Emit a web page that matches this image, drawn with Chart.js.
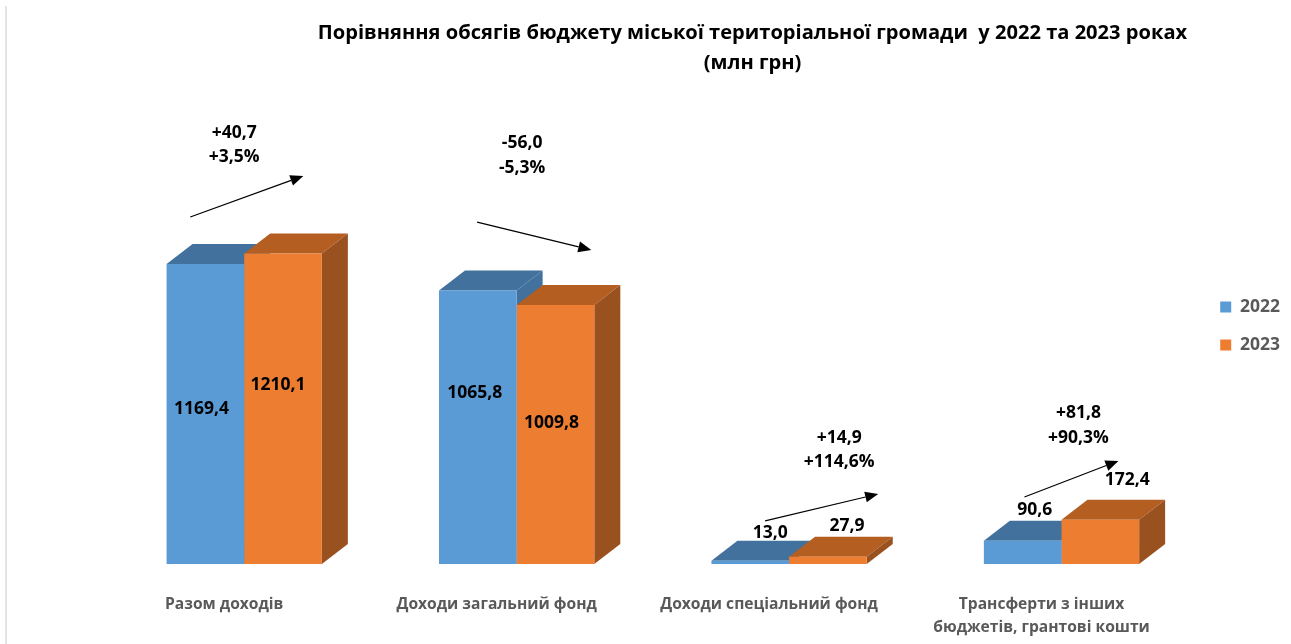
<!DOCTYPE html>
<html>
<head>
<meta charset="utf-8">
<script src="https://cdn.jsdelivr.net/npm/chart.js@4"></script>
<style>
html,body{margin:0;padding:0;background:#fff;overflow:hidden}
#wrap{position:relative;width:1291px;height:644px}
#edge{position:absolute;left:5px;top:6px;bottom:0;width:2px;background:#e4e4e4}
</style>
</head>
<body>
<div id="wrap"><div id="edge"></div><canvas id="c" width="1291" height="644"></canvas></div>
<script>
const categories = ["Разом доходів", "Доходи загальний фонд", "Доходи спеціальний фонд", ["Трансферти з інших", "бюджетів, грантові кошти"]];
const seriesNames = ["2022", "2023"];
const values2022 = [1169.4, 1065.8, 13.0, 90.6];
const values2023 = [1210.1, 1009.8, 27.9, 172.4];
const titleLines = ["Порівняння обсягів бюджету міської територіальної громади  у 2022 та 2023 роках", "(млн грн)"];
const deltaAbs = ["+40,7", "-56,0", "+14,9", "+81,8"];
const deltaPct = ["+3,5%", "-5,3%", "+114,6%", "+90,3%"];

// placement of annotations, in axis units (category fraction, value)
const deltaX = [-0.037, 0.02, 0.184, 0.062];
const deltaAbsY = [1682, 1643, 493, 590];
const deltaPctY = [1585, 1542, 396, 493];
const arrowFromX = [-0.198, -0.145, -0.088, -0.136];
const arrowFromY = [1353, 1333, 168, 261];
const arrowToX = [0.217, 0.274, 0.327, 0.209];
const arrowToY = [1513, 1224, 273, 402];
// value-label pixel offsets from the bar's centre / top
const labelDx = [[-4, -3, 20, 12], [-5, -4, 19, 27]];
const labelDy = [[145, 102, -28, -31], [131, 118, -31, -40]];

const FONT = '"Open Sans", sans-serif';
const DEPTH_X = 26, DEPTH_Y = 20;
const LEGEND_NUDGE_X = 2, LEGEND_NUDGE_Y = -2;
const TITLE_CENTRE = 752.5;
const faces = [
  {front: "#5B9BD5", top: "#41719C", side: "#41719C"},
  {front: "#ED7D31", top: "#B55E22", side: "#9A5120"}
];
const fmt = v => v.toFixed(1).replace(".", ",");

function poly(ctx, pts, fill) {
  ctx.beginPath();
  pts.forEach((p, i) => i ? ctx.lineTo(p[0], p[1]) : ctx.moveTo(p[0], p[1]));
  ctx.closePath();
  ctx.fillStyle = fill;
  ctx.fill();
}

const bars3d = {
  id: "bars3d",
  afterLayout(chart) {
    const t = chart.titleBlock;
    const w = t.right - t.left;
    t.left = TITLE_CENTRE - w / 2;
    t.right = TITLE_CENTRE + w / 2;
    const lg = chart.legend;
    lg.left += LEGEND_NUDGE_X;
    lg.right += LEGEND_NUDGE_X;
    lg.top += LEGEND_NUDGE_Y;
    lg.bottom += LEGEND_NUDGE_Y;
  },
  beforeDatasetsDraw(chart) {
    const ctx = chart.ctx;
    ctx.save();
    chart.data.labels.forEach((_, i) => {
      [0, 1].forEach(ds => {
        const b = chart.getDatasetMeta(ds).data[i];
        const l = b.x - b.width / 2, r = b.x + b.width / 2, t = b.y, bt = b.base;
        poly(ctx, [[l, t], [l + DEPTH_X, t - DEPTH_Y], [r + DEPTH_X, t - DEPTH_Y], [r, t]], faces[ds].top);
        poly(ctx, [[r, t], [r + DEPTH_X, t - DEPTH_Y], [r + DEPTH_X, bt - DEPTH_Y], [r, bt]], faces[ds].side);
      });
    });
    ctx.restore();
  },
  afterDatasetsDraw(chart) {
    const ctx = chart.ctx, xs = chart.scales.x, ys = chart.scales.y;
    const cw = xs.getPixelForValue(1) - xs.getPixelForValue(0);
    ctx.save();
    ctx.textAlign = "center";
    ctx.textBaseline = "middle";
    ctx.fillStyle = "#000";
    ctx.font = "700 17.5px " + FONT;
    [0, 1].forEach(ds => {
      chart.getDatasetMeta(ds).data.forEach((b, i) => {
        const v = chart.data.datasets[ds].data[i];
        ctx.fillText(fmt(v), b.x + labelDx[ds][i], b.y + labelDy[ds][i]);
      });
    });
    chart.data.labels.forEach((_, i) => {
      const cx = xs.getPixelForValue(i);
      const tx = cx + deltaX[i] * cw;
      ctx.fillStyle = "#000";
      ctx.fillText(deltaAbs[i], tx, ys.getPixelForValue(deltaAbsY[i]));
      ctx.fillText(deltaPct[i], tx, ys.getPixelForValue(deltaPctY[i]));

      const x1 = cx + arrowFromX[i] * cw, y1 = ys.getPixelForValue(arrowFromY[i]);
      const x2 = cx + arrowToX[i] * cw, y2 = ys.getPixelForValue(arrowToY[i]);
      const a = Math.atan2(y2 - y1, x2 - x1), len = 13, hw = 5.5;
      const bx = x2 - len * Math.cos(a), by = y2 - len * Math.sin(a);
      ctx.strokeStyle = "#000";
      ctx.lineWidth = 1.2;
      ctx.beginPath();
      ctx.moveTo(x1, y1);
      ctx.lineTo(bx, by);
      ctx.stroke();
      poly(ctx, [[x2, y2],
        [bx - hw * Math.sin(a), by + hw * Math.cos(a)],
        [bx + hw * Math.sin(a), by - hw * Math.cos(a)]], "#000");
    });
    ctx.restore();
  }
};

new Chart(document.getElementById("c"), {
  type: "bar",
  data: {
    labels: categories,
    datasets: [
      {label: seriesNames[0], data: values2022, backgroundColor: faces[0].front, borderWidth: 0},
      {label: seriesNames[1], data: values2023, backgroundColor: faces[1].front, borderWidth: 0}
    ]
  },
  options: {
    responsive: false,
    animation: false,
    layout: {padding: {left: 108, right: 3, top: 18, bottom: 6}},
    datasets: {bar: {categoryPercentage: 0.57, barPercentage: 1}},
    scales: {
      x: {
        grid: {display: false, drawTicks: false},
        border: {display: false},
        afterFit(scale) { scale.height = 74; },
        ticks: {
          color: "#595959",
          font: {family: FONT, size: 15.6, weight: "700", lineHeight: 1.47},
          padding: 29.5,
          labelOffset: -20,
          maxRotation: 0,
          autoSkip: false
        }
      },
      y: {
        display: false,
        min: 0,
        max: 1800
      }
    },
    plugins: {
      title: {
        display: true,
        text: titleLines,
        color: "#000",
        font: {family: FONT, size: 20.1, weight: "700", lineHeight: 1.5},
        padding: {top: 0, bottom: 24}
      },
      legend: {
        display: true,
        position: "right",
        labels: {
          color: "#595959",
          font: {family: FONT, size: 17.5, weight: "700"},
          boxWidth: 11,
          boxHeight: 11,
          padding: 20.5
        }
      },
      tooltip: {enabled: false}
    }
  },
  plugins: [bars3d]
});
</script>
</body>
</html>
